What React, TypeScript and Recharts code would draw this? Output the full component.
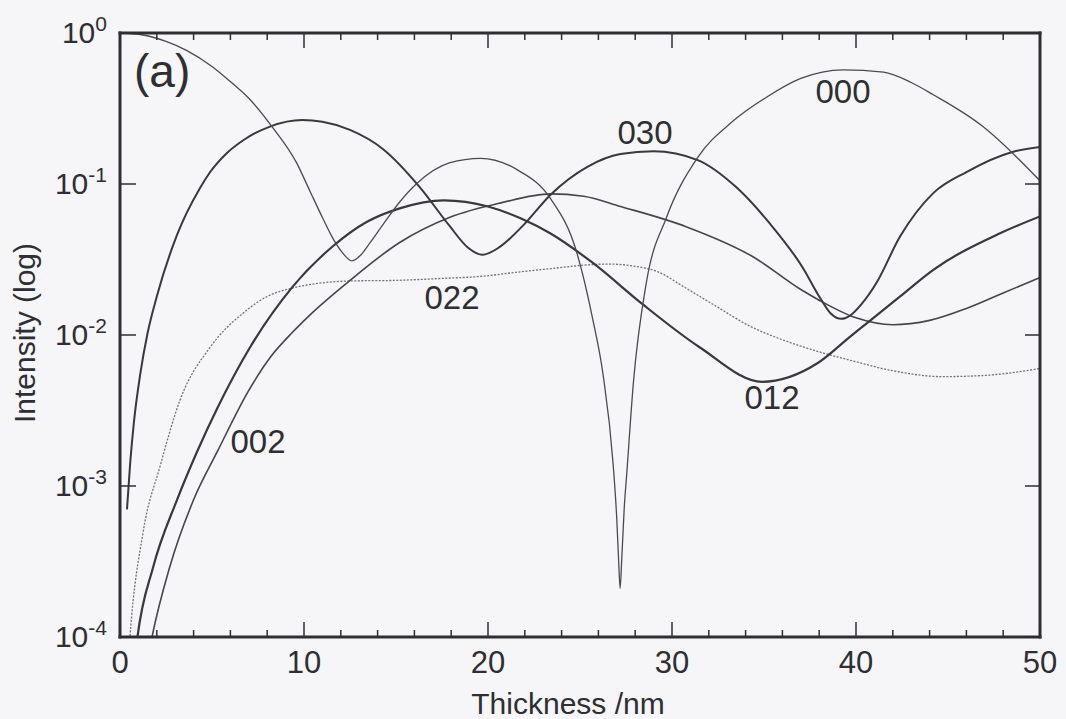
import React from 'react';
import { LineChart, Line, XAxis, YAxis } from 'recharts';

// thickness (nm) / intensity pairs
const beam000 = [
  [0, 1.0], [1.25, 0.97], [2.5, 0.88], [3.64, 0.765], [5, 0.6], [5.8, 0.5], [7, 0.37],
  [8.26, 0.24], [9.6, 0.138], [10.3, 0.091], [11, 0.06], [11.6, 0.043], [12.1, 0.035],
  [12.6, 0.031], [13.1, 0.034], [13.6, 0.041], [14.3, 0.054], [15.2, 0.076], [16.1, 0.1],
  [17.9, 0.138], [19.6, 0.148], [21.6, 0.124], [23.4, 0.08], [24.8, 0.036], [25.7, 0.0126],
  [26.25, 0.0055], [26.8, 0.0014], [27.0, 0.0006], [27.1, 0.00032], [27.18, 0.00021],
  [27.27, 0.00033], [27.4, 0.0007], [27.55, 0.00125], [27.9, 0.0048], [28.6, 0.022],
  [29.7, 0.06], [31.4, 0.15], [33.3, 0.26], [35.2, 0.38], [37, 0.5], [39.3, 0.57],
  [41.5, 0.55], [43, 0.47], [44.2, 0.39], [46.9, 0.24], [48.75, 0.15], [50, 0.105],
];

const beam030 = [
  [0.38, 0.0007], [0.55, 0.0014], [0.75, 0.0026], [1.1, 0.0055], [1.5, 0.0103], [2, 0.018],
  [3.1, 0.046], [4.35, 0.094], [4.9, 0.12], [5.8, 0.16], [6.7, 0.195], [8.15, 0.24],
  [9.9, 0.265], [11, 0.258], [12.5, 0.228], [14.3, 0.17], [16.3, 0.095], [17.9, 0.053],
  [18.9, 0.038], [19.7, 0.034], [20.6, 0.038], [21.9, 0.053], [23.4, 0.085], [25.4, 0.13],
  [27.2, 0.158], [29, 0.165], [31.4, 0.144], [33.5, 0.095], [35.3, 0.055], [37.1, 0.028],
  [38, 0.018], [38.6, 0.014], [39.2, 0.0128], [39.7, 0.0135], [40.3, 0.016], [41.1, 0.022],
  [42.4, 0.045], [44.2, 0.087], [46, 0.12], [48.5, 0.163], [50, 0.176],
];

const beam012 = [
  [0.8, 0.00007], [0.95, 0.0001], [1.8, 0.00029], [3.1, 0.00081], [4.2, 0.0017],
  [5.3, 0.0033], [7.07, 0.0083], [9.4, 0.021], [11.6, 0.039], [13.4, 0.056], [15.2, 0.069],
  [17.6, 0.078], [20, 0.071], [21.8, 0.059], [23.4, 0.047], [25.7, 0.03], [28.4, 0.016],
  [31.5, 0.0083], [34.9, 0.0049], [37.9, 0.0065], [39.7, 0.0098], [40.6, 0.012],
  [42.4, 0.018], [44.2, 0.027], [47.8, 0.047], [50, 0.061],
];

const beam002 = [
  [1.5, 0.00007], [1.74, 0.0001], [2.7, 0.00029], [4, 0.00081], [5.3, 0.0017], [7, 0.0043],
  [8.2, 0.0072], [9.4, 0.0105], [10.3, 0.0135], [12.5, 0.023], [15.2, 0.041], [17.9, 0.06],
  [20.7, 0.075], [23.4, 0.086], [25.2, 0.083], [27.2, 0.071], [30.8, 0.052], [34.4, 0.033],
  [37, 0.02], [38, 0.017], [40, 0.013], [42, 0.0117], [44, 0.0125], [46, 0.015],
  [48, 0.019], [50, 0.024],
];

const beam022 = [
  [0.45, 0.00007], [0.54, 0.0001], [1.25, 0.00049], [2.17, 0.00134], [3.26, 0.0037],
  [4.9, 0.0083], [6.7, 0.014], [8, 0.018], [9.4, 0.0205], [10.8, 0.022], [12.5, 0.0228],
  [15, 0.023], [17.5, 0.0237], [19.7, 0.0245], [21.5, 0.026], [23.4, 0.0275], [25.2, 0.029],
  [26.5, 0.0295], [28, 0.0285], [29.3, 0.026], [30.6, 0.021], [32.4, 0.0155], [34.2, 0.0115],
  [36, 0.0093], [37.9, 0.0078], [39.7, 0.0068], [42, 0.0058], [44.7, 0.0053], [47, 0.0054],
  [50, 0.006],
];

const thicknessTicks = [0, 2, 4, 6, 8, 10, 12, 14, 16, 18, 20, 22, 24, 26, 28, 30, 32, 34, 36, 38, 40, 42, 44, 46, 48, 50];
const intensityTicks = [1e-4, 1e-3, 1e-2, 1e-1, 1];

const ink = '#2e2e33';
const font = '"Liberation Sans", Arial, Helvetica, sans-serif';

const toPts = (arr: number[][]) => arr.map(([t, v]) => ({ t, v }));

const BottomTick = (p: any) => {
  const { x, y, payload } = p;
  const major = payload.value % 10 === 0;
  return (
    <g>
      <line x1={x} x2={x} y1={y} y2={y - (major ? 15 : 7)} stroke={ink} strokeWidth={1.5} />
      {major && (
        <text x={x} y={y + 36} textAnchor="middle" fontSize={31} fill={ink} fontFamily={font}>
          {payload.value}
        </text>
      )}
    </g>
  );
};

const TopTick = (p: any) => {
  const { x, y, payload } = p;
  const major = payload.value % 10 === 0;
  return <line x1={x} x2={x} y1={y} y2={y + (major ? 15 : 7)} stroke={ink} strokeWidth={1.5} />;
};

const LeftTick = (p: any) => {
  const { x, y, payload } = p;
  const e = Math.round(Math.log10(payload.value));
  return (
    <g>
      <line x1={x} x2={x + 16} y1={y} y2={y} stroke={ink} strokeWidth={1.5} />
      <text x={x - 13} y={y + 10} textAnchor="end" fontSize={30} fill={ink} fontFamily={font}>
        10<tspan dy={-12} fontSize={21}>{e}</tspan>
      </text>
    </g>
  );
};

const RightTick = (p: any) => {
  const { x, y } = p;
  return <line x1={x} x2={x - 15} y1={y} y2={y} stroke={ink} strokeWidth={1.5} />;
};

const frame = { stroke: ink, strokeWidth: 3, strokeLinecap: 'square' as const };

const App = () => (
  <div style={{ position: 'absolute', left: 0, top: 0, width: 1066, height: 719, background: '#f6f6f8' }}>
    <LineChart width={1066} height={719} margin={{ top: 32, right: 25, left: 20, bottom: 22 }}>
      <XAxis xAxisId="b" dataKey="t" type="number" domain={[0, 50]} allowDataOverflow
        ticks={thicknessTicks} interval={0} height={60} tickSize={0} tickMargin={0}
        tickLine={false} axisLine={frame} tick={(p: any) => <BottomTick {...p} />} />
      <XAxis xAxisId="top" orientation="top" dataKey="t" type="number" domain={[0, 50]} allowDataOverflow
        ticks={thicknessTicks} interval={0} height={1} tickSize={0} tickMargin={0}
        tickLine={false} axisLine={frame} tick={(p: any) => <TopTick {...p} />} />
      <YAxis yAxisId="l" type="number" scale="log" domain={[1e-4, 1]} allowDataOverflow
        ticks={intensityTicks} interval={0} width={100} tickSize={0} tickMargin={0}
        tickLine={false} axisLine={frame} tick={(p: any) => <LeftTick {...p} />} />
      <YAxis yAxisId="r" orientation="right" type="number" scale="log" domain={[1e-4, 1]} allowDataOverflow
        ticks={intensityTicks} interval={0} width={1} tickSize={0} tickMargin={0}
        tickLine={false} axisLine={frame} tick={(p: any) => <RightTick {...p} />} />
      <Line data={toPts(beam022)} dataKey="v" xAxisId="b" yAxisId="l" type="monotone" dot={false}
        stroke="#707076" strokeWidth={1.3} strokeDasharray="2 1.5" isAnimationActive={false} />
      <Line data={toPts(beam002)} dataKey="v" xAxisId="b" yAxisId="l" type="monotone" dot={false}
        stroke="#45454b" strokeWidth={1.6} isAnimationActive={false} />
      <Line data={toPts(beam012)} dataKey="v" xAxisId="b" yAxisId="l" type="monotone" dot={false}
        stroke="#38383e" strokeWidth={2.2} isAnimationActive={false} />
      <Line data={toPts(beam030)} dataKey="v" xAxisId="b" yAxisId="l" type="monotone" dot={false}
        stroke="#38383e" strokeWidth={2} isAnimationActive={false} />
      <Line data={toPts(beam000)} dataKey="v" xAxisId="b" yAxisId="l" type="monotone" dot={false}
        stroke="#4a4a50" strokeWidth={1.3} isAnimationActive={false} />
    </LineChart>
    <svg width={1066} height={719} style={{ position: 'absolute', left: 0, top: 0, pointerEvents: 'none' }}>
      <g fontFamily={font} fill={ink}>
        <text x={134} y={87} fontSize={46}>(a)</text>
        <text x={843} y={103} fontSize={33} textAnchor="middle">000</text>
        <text x={645} y={144} fontSize={33} textAnchor="middle">030</text>
        <text x={452} y={309} fontSize={33} textAnchor="middle">022</text>
        <text x={772} y={409} fontSize={33} textAnchor="middle">012</text>
        <text x={258} y={453} fontSize={33} textAnchor="middle">002</text>
        <text x={568} y={714} fontSize={30} textAnchor="middle">Thickness /nm</text>
        <text x={35} y={333} fontSize={30} textAnchor="middle" transform="rotate(-90 35 333)">Intensity (log)</text>
      </g>
    </svg>
  </div>
);

export default App;
